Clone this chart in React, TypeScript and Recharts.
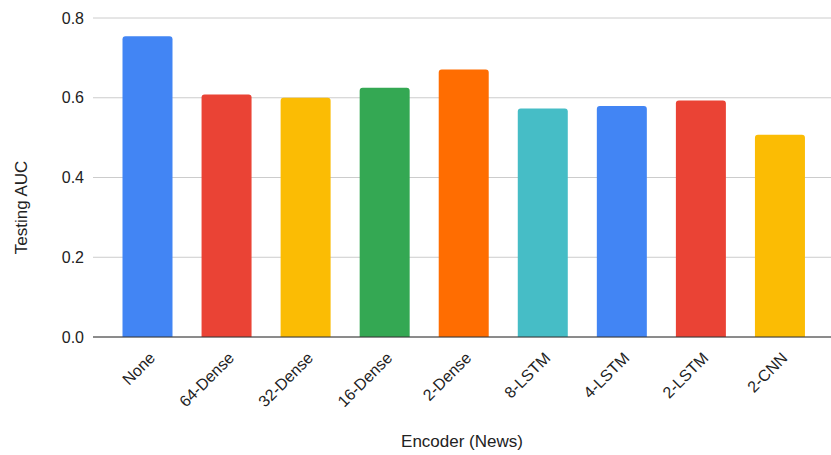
import { Bar, BarChart, CartesianGrid, Cell, Label, XAxis, YAxis } from 'recharts';

const encoders = ['None', '64-Dense', '32-Dense', '16-Dense', '2-Dense', '8-LSTM', '4-LSTM', '2-LSTM', '2-CNN'];
const testingAuc = [0.754, 0.608, 0.6, 0.625, 0.671, 0.573, 0.579, 0.593, 0.507];
const barColors = ['#4285F4', '#EA4335', '#FBBC04', '#34A853', '#FF6D01', '#46BDC6', '#4285F4', '#EA4335', '#FBBC04'];
const yTicks = [0, 0.2, 0.4, 0.6, 0.8];

const data = encoders.map((name, i) => ({ name, auc: testingAuc[i] }));

const FONT = '"Liberation Sans", Arial, sans-serif';

// rotated category label, anchored at its end just right of the bar centre
function EncoderTick({ x, y, payload }: any) {
  return (
    <g transform={`translate(${x + 9},${y + 22})`}>
      <text
        transform="rotate(-45)"
        textAnchor="end"
        fontSize={16}
        fontFamily={FONT}
        fill="#222"
      >
        {payload.value}
      </text>
    </g>
  );
}

// vertical axis title, sitting a little below the middle of the plot
function AucTitle({ viewBox }: any) {
  const cx = viewBox.x + 21;
  const cy = viewBox.y + viewBox.height / 2 + 30;
  return (
    <text
      x={cx}
      y={cy}
      transform={`rotate(-90, ${cx}, ${cy})`}
      textAnchor="middle"
      dominantBaseline="central"
      fontSize={17}
      fontFamily={FONT}
      fill="#222"
    >
      Testing AUC
    </text>
  );
}

export default function App() {
  return (
    <div style={{ position: 'fixed', left: 0, top: 0, background: '#fff' }}>
      <BarChart
        width={831}
        height={455}
        data={data}
        margin={{ top: 18, right: 0, left: 0, bottom: 0 }}
      >
        <CartesianGrid vertical={false} stroke="#cccccc" strokeWidth={1} />
        <XAxis
          dataKey="name"
          height={118}
          interval={0}
          padding={{ left: 14.5, right: 12 }}
          tickLine={false}
          tickSize={0}
          tickMargin={0}
          axisLine={{ stroke: '#333', strokeWidth: 1.2 }}
          tick={<EncoderTick />}
        >
          <Label
            value="Encoder (News)"
            position="insideBottom"
            offset={8}
            fontSize={17}
            fontFamily={FONT}
            fill="#222"
          />
        </XAxis>
        <YAxis
          width={93}
          domain={[0, 0.8]}
          ticks={yTicks}
          tickFormatter={(v: number) => v.toFixed(1)}
          axisLine={false}
          tickLine={false}
          tickSize={0}
          tickMargin={9}
          tick={{ fontSize: 16, fontFamily: FONT, fill: '#222' }}
        >
          <Label content={<AucTitle />} />
        </YAxis>
        <Bar dataKey="auc" barSize={50} radius={[3, 3, 0, 0]} isAnimationActive={false}>
          {data.map((d, i) => (
            <Cell key={d.name} fill={barColors[i]} />
          ))}
        </Bar>
      </BarChart>
    </div>
  );
}
